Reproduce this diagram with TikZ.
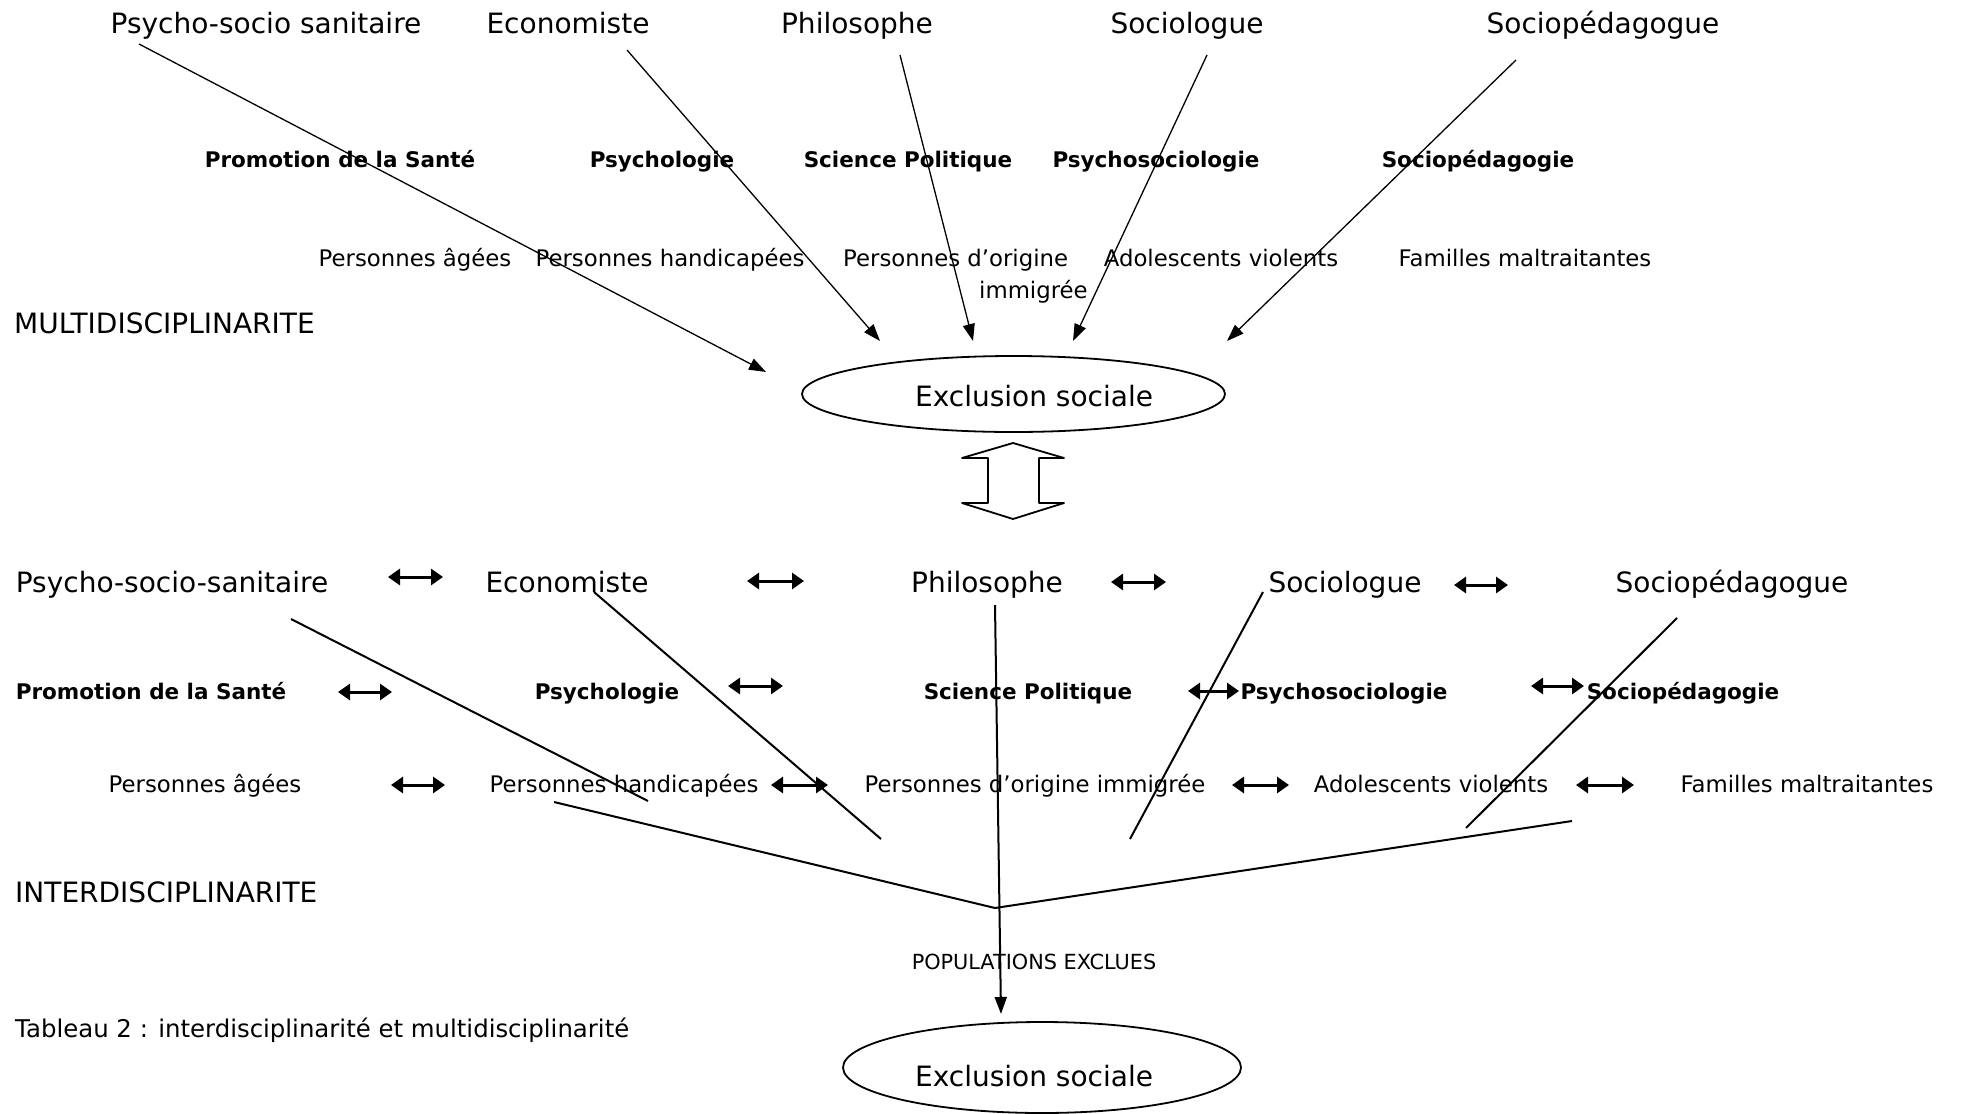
\documentclass[tikz,border=0pt]{standalone}
\usepackage{fontspec}
\setmainfont{DejaVu Sans}
\usetikzlibrary{arrows.meta,shapes.geometric}

\begin{document}
\begin{tikzpicture}[x=1pt, y=-1pt, line join=round, >={Triangle[length=17pt,width=12pt]},
	big/.style={anchor=base, inner sep=0pt, font=\fontsize{28}{34}\selectfont},
	bld/.style={anchor=base, inner sep=0pt, font=\bfseries\fontsize{21.5}{26}\selectfont},
	pop/.style={anchor=base, inner sep=0pt, font=\fontsize{22.8}{32}\selectfont},
	link/.style={line width=1.3pt},
	link2/.style={line width=2pt},
	lr/.style={line width=3pt, {Triangle[length=12pt,width=16pt]}-{Triangle[length=12pt,width=16pt]}},
	excl/.style={draw, ellipse, line width=1.8pt, inner sep=0pt}]
	\useasboundingbox (0,0) rectangle (1966,1114);
	% Multidisciplinarite
	\node[big] (pss1) at (266,33) {Psycho-socio sanitaire};
	\node[big] (eco1) at (568,33) {Economiste};
	\node[big] (phi1) at (857,33) {Philosophe};
	\node[big] (soc1) at (1187,33) {Sociologue};
	\node[big] (sped1) at (1603,33) {Sociopédagogue};
	\node[bld] (prom1) at (340,167) {Promotion de la Santé};
	\node[bld] (psy1) at (662,167) {Psychologie};
	\node[bld] (scp1) at (908,167) {Science Politique};
	\node[bld] (pss1b) at (1156,167) {Psychosociologie};
	\node[bld] (spg1) at (1478,167) {Sociopédagogie};
	\node[pop] (age1) at (415,266) {Personnes âgées};
	\node[pop] (hand1) at (670,266) {Personnes handicapées};
	\node[pop, anchor=base west, align=left] (orig1) at (843,298) {Personnes d’origine\\\hspace*{136pt}immigrée};
	\node[pop] (ado1) at (1221,266) {Adolescents violents};
	\node[pop] (fam1) at (1525,266) {Familles maltraitantes};
	\node[big, anchor=base west] (multi) at (14,333) {MULTIDISCIPLINARITE};
	\node[excl, minimum width=423, minimum height=76] (excl1) at (1013.5,394) {};
	\node[big] (excl1t) at (1034,406) {Exclusion sociale};
	\foreach \xa/\ya/\xb/\yb [count=\i] in {139/44/766/372, 627/50/880/341, 900/55/973/341, 1207/55/1073/341, 1516/60/1227/341}
	{
		\coordinate (ms\i) at (\xa,\ya);
		\coordinate (mt\i) at (\xb,\yb);
		\draw[link,->] (ms\i) -- (mt\i);
	}
	% double fleche
	\draw[line width=1.8pt] (1013,443) -- (1064,458) -- (1039,458) -- (1039,503) -- (1064,503) -- (1013,519)
		-- (962,503) -- (988,503) -- (988,458) -- (962,458) -- cycle;
	% Interdisciplinarite
	\node[big] (pss2) at (172,592) {Psycho-socio-sanitaire};
	\node[big] (eco2) at (567,592) {Economiste};
	\node[big] (phi2) at (987,592) {Philosophe};
	\node[big] (soc2) at (1345,592) {Sociologue};
	\node[big] (sped2) at (1732,592) {Sociopédagogue};
	\node[bld] (prom2) at (151,699) {Promotion de la Santé};
	\node[bld] (psy2) at (607,699) {Psychologie};
	\node[bld] (scp2) at (1028,699) {Science Politique};
	\node[bld] (pss2b) at (1344,699) {Psychosociologie};
	\node[bld] (spg2) at (1683,699) {Sociopédagogie};
	\node[pop] (age2) at (205,792) {Personnes âgées};
	\node[pop] (hand2) at (624,792) {Personnes handicapées};
	\node[pop] (orig2) at (1035,792) {Personnes d’origine immigrée};
	\node[pop] (ado2) at (1431,792) {Adolescents violents};
	\node[pop] (fam2) at (1807,792) {Familles maltraitantes};
	\foreach \xa/\xb/\yy [count=\i] in {388/443/577, 747/804/581, 1111/1166/582, 1454/1508/585,
		338/392/692, 728/783/686, 1188/1239/691, 1531/1584/686,
		391/445/785, 771/828/785, 1232/1289/785, 1576/1634/785}
	{
		\coordinate (la\i) at (\xa,\yy);
		\coordinate (ra\i) at (\xb,\yy);
		\draw[lr] (la\i) -- (ra\i);
	}
	\foreach \xa/\ya/\xb/\yb [count=\i] in {291/619/648/801, 594/592/881/839, 1263/592/1130/839, 1677/618/1466/828}
	{
		\coordinate (is\i) at (\xa,\ya);
		\coordinate (it\i) at (\xb,\yb);
		\draw[link2] (is\i) -- (it\i);
	}
	\coordinate (fl) at (554,802);
	\coordinate (apex) at (995,908);
	\coordinate (fr) at (1572,821);
	\draw[link2] (fl) -- (apex) -- (fr);
	\node[big, anchor=base west] (inter) at (15,902) {INTERDISCIPLINARITE};
	\node[anchor=base, inner sep=0pt, font=\fontsize{20.8}{25}\selectfont] (popex) at (1034,969) {POPULATIONS EXCLUES};
	\node[excl, minimum width=398, minimum height=91] (excl2) at (1042,1067.5) {};
	\node[big] (excl2t) at (1034,1086) {Exclusion sociale};
	\coordinate (phs) at (995,605);
	\coordinate (phe) at (1001,1014);
	\draw[link2,->] (phs) -- (phe);
	\node[anchor=base west, inner sep=0pt, font=\fontsize{24.4}{29}\selectfont] (titre) at (15,1037) {Tableau 2 : interdisciplinarité et multidisciplinarité};
\end{tikzpicture}
\end{document}
